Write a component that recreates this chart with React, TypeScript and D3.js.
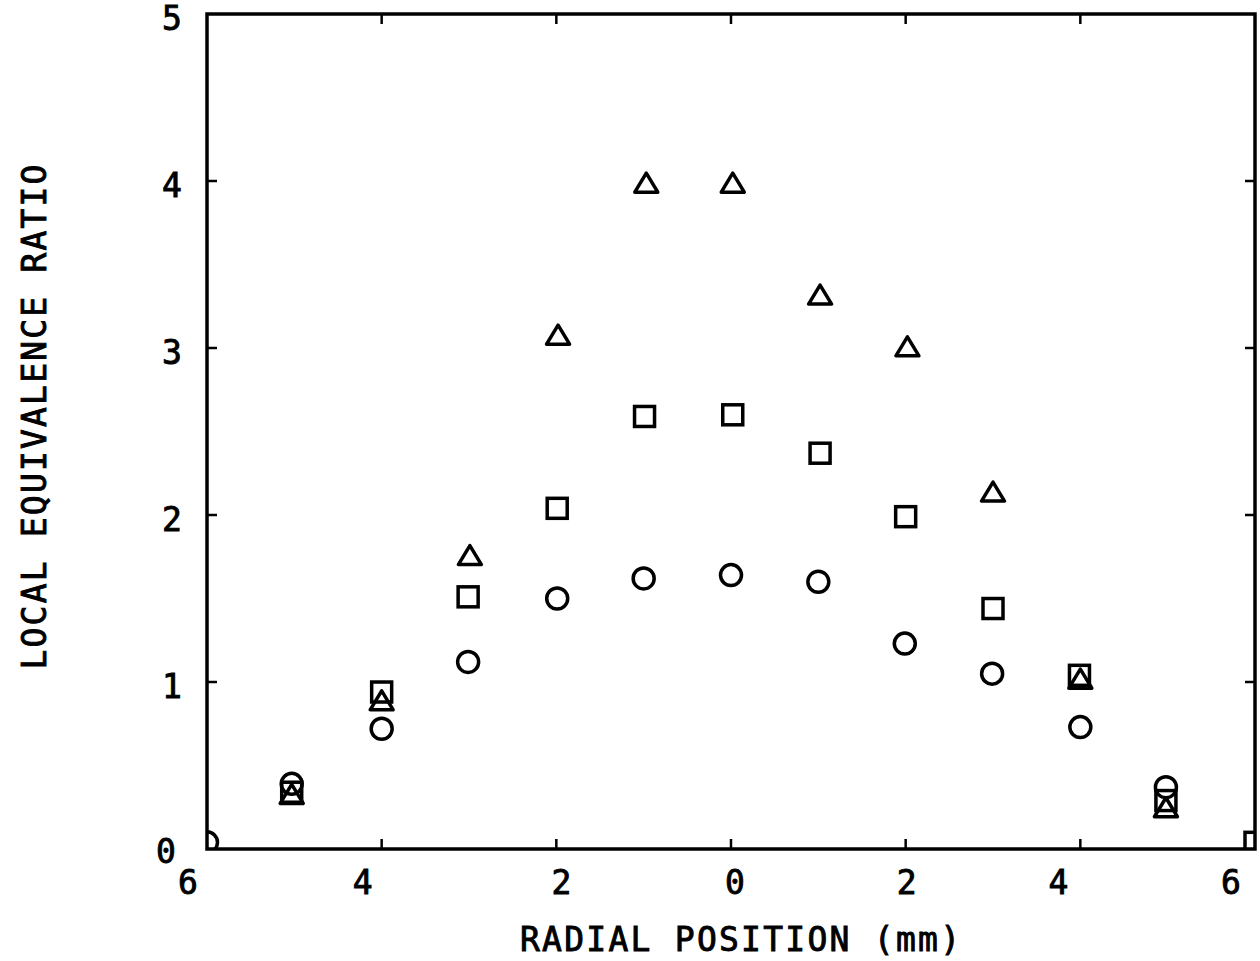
import React from "react";
import * as d3 from "d3";

// Radial position (mm)
const circleX = [-6, -5.03, -4.0, -3.01, -1.99, -1.0, 0.0, 1.0, 1.99, 2.99, 4.0, 4.98];
const circleY = [0.04, 0.39, 0.72, 1.12, 1.5, 1.62, 1.64, 1.6, 1.23, 1.05, 0.73, 0.37];

const squareX = [-5.03, -4.0, -3.01, -1.99, -0.99, 0.02, 1.02, 2.0, 3.0, 3.99, 4.98, 6];
const squareY = [0.34, 0.94, 1.51, 2.04, 2.59, 2.6, 2.37, 1.99, 1.44, 1.04, 0.29, 0.04];

const triangleX = [-5.03, -4.0, -2.99, -1.98, -0.97, 0.02, 1.02, 2.02, 3.0, 4.0, 4.98];
const triangleY = [0.33, 0.89, 1.76, 3.08, 3.99, 3.99, 3.32, 3.01, 2.14, 1.02, 0.25];

const xTickValues = [-6, -4, -2, 0, 2, 4, 6];
const xTickLabels = ["6", "4", "2", "0", "2", "4", "6"];
const xLabelShift = [-19, -19, 5, 4, 1, -22, -24];
const yTickValues = [0, 1, 2, 3, 4, 5];
const yTickLabels = ["0", "1", "2", "3", "4", "5"];

const xTitle = "RADIAL POSITION (mm)";
const yTitle = "LOCAL EQUIVALENCE RATIO";

const W = 1260;
const H = 961;
const left = 207;
const right = 1255;
const top = 14;
const bottom = 849;

export default function App() {
  const x = d3.scaleLinear().domain([-6, 6]).range([left, right]);
  const y = d3.scaleLinear().domain([0, 5]).range([bottom, top]);
  const font = "'DejaVu Sans Mono', 'Liberation Mono', monospace";
  const sw = 3.5;
  const tick = 10;
  const textStyle = { stroke: "#000", strokeWidth: 0.9 };

  const tri = (cx: number, cy: number) => {
    const w = 23;
    const h = 19;
    return `M${cx - w / 2},${cy + h / 2}L${cx},${cy - h / 2}L${cx + w / 2},${cy + h / 2}Z`;
  };

  const circles = circleX.map((v, i) => ({ x: v, y: circleY[i] }));
  const squares = squareX.map((v, i) => ({ x: v, y: squareY[i] }));
  const triangles = triangleX.map((v, i) => ({ x: v, y: triangleY[i] }));

  return (
    <svg
      width={W}
      height={H}
      style={{ position: "absolute", left: 0, top: 0, background: "#fff" }}
    >
      <defs>
        <clipPath id="plotClip">
          <rect x={left} y={top} width={right - left} height={bottom - top} />
        </clipPath>
      </defs>
      <rect x={0} y={0} width={W} height={H} fill="#fff" />
      {/* frame */}
      <rect
        x={left}
        y={top}
        width={right - left}
        height={bottom - top}
        fill="none"
        stroke="#000"
        strokeWidth={3.5}
      />
      {/* x ticks (inward, bottom and top) */}
      {xTickValues.slice(1, -1).map((v) => (
        <g key={"xt" + v}>
          <line x1={x(v)} x2={x(v)} y1={bottom} y2={bottom - tick} stroke="#000" strokeWidth={2.5} />
          <line x1={x(v)} x2={x(v)} y1={top} y2={top + tick} stroke="#000" strokeWidth={2.5} />
        </g>
      ))}
      {/* y ticks (inward, left and right) */}
      {yTickValues.slice(1, -1).map((v) => (
        <g key={"yt" + v}>
          <line x1={left} x2={left + tick} y1={y(v)} y2={y(v)} stroke="#000" strokeWidth={2.5} />
          <line x1={right} x2={right - tick} y1={y(v)} y2={y(v)} stroke="#000" strokeWidth={2.5} />
        </g>
      ))}
      {/* x tick labels */}
      {xTickValues.map((v, i) => (
        <text
          key={"xl" + i}
          x={x(v) + xLabelShift[i]}
          y={894}
          textAnchor="middle"
          fontFamily={font}
          fontSize={33}
          fill="#000"
          style={textStyle}
        >
          {xTickLabels[i]}
        </text>
      ))}
      {/* y tick labels */}
      {yTickValues.map((v, i) => (
        <text
          key={"yl" + i}
          x={v === 0 ? 166 : 172}
          y={v === 0 ? 863 : y(v) + 16}
          textAnchor="middle"
          fontFamily={font}
          fontSize={33}
          fill="#000"
          style={textStyle}
        >
          {yTickLabels[i]}
        </text>
      ))}
      {/* axis titles */}
      <text
        x={740}
        y={951}
        textAnchor="middle"
        fontFamily={font}
        fontSize={33}
        textLength={440}
        lengthAdjust="spacing"
        fill="#000"
        style={textStyle}
      >
        {xTitle}
      </text>
      <text
        transform={`translate(46,417) rotate(-90)`}
        textAnchor="middle"
        fontFamily={font}
        fontSize={33}
        textLength={505}
        lengthAdjust="spacing"
        fill="#000"
        style={textStyle}
      >
        {yTitle}
      </text>
      {/* data */}
      <g clipPath="url(#plotClip)" fill="none" stroke="#000" strokeWidth={sw}>
        {circles.map((d, i) => (
          <circle key={"c" + i} cx={x(d.x)} cy={y(d.y)} r={10.5} />
        ))}
        {squares.map((d, i) => (
          <rect key={"s" + i} x={x(d.x) - 10} y={y(d.y) - 10} width={20} height={20} />
        ))}
        {triangles.map((d, i) => (
          <path key={"t" + i} d={tri(x(d.x), y(d.y))} strokeLinejoin="round" />
        ))}
      </g>
    </svg>
  );
}
